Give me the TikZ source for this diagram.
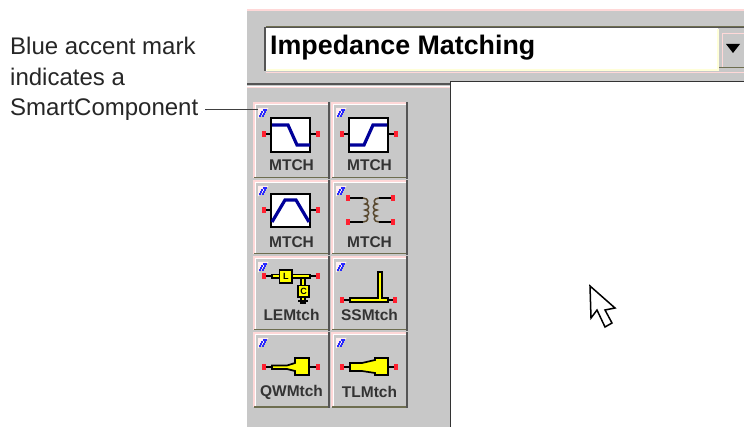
\documentclass[tikz,border=0pt]{standalone}
\usepackage{fontspec}
\setmainfont{Liberation Sans}
\definecolor{panel}{HTML}{C8C8C8}
\definecolor{pinkedge}{HTML}{FFD8D8}
\definecolor{olive}{HTML}{6E6E50}
\definecolor{darkedge}{HTML}{555555}
\definecolor{paley}{HTML}{FFFFD8}
\definecolor{accent}{HTML}{2828FF}
\definecolor{filt}{HTML}{000099}
\definecolor{termred}{HTML}{FF2030}
\definecolor{comp}{HTML}{FFFF00}
\definecolor{coil}{HTML}{5A4A30}
\tikzset{
  filterbox/.style={draw=black,line width=1.3pt,fill=white},
  filterline/.style={draw=filt,line width=3.2pt,line join=miter},
  compshape/.style={draw=black,line width=1.7pt,fill=comp,line join=miter},
  wirepart/.style={draw=black,line width=1.2pt},
  btnlabel/.style={font=\fontsize{15.5}{15.5}\selectfont\bfseries,text=black!80,inner sep=0pt,anchor=center},
  note/.style={font=\fontsize{24}{30.5}\selectfont,text=black!85,inner sep=0pt,align=left,anchor=north west},
}
% button: name, x, y, width, height, label, label centre y
\newcommand{\toolbtn}[7]{%
  \begin{scope}[shift={(#2,#3)}]
    \fill[panel] (0,0) rectangle (#4,#5);
    \draw[pinkedge,line width=1.6pt] (0.8,#5) -- (0.8,0.8) -- (#4,0.8);
    \draw[white,line width=.8pt] (2.2,#5-1) -- (2.2,2.2) -- (#4-1,2.2);
    \draw[olive,line width=1.6pt] (1,#5-.3) -- (#4,#5-.3);
    \draw[darkedge,line width=1.6pt] (#4+.2,0) -- (#4+.2,#5+.8);
    \fill[white!60!pinkedge] (5,6) -- (15.5,6) -- (5,16.5) -- cycle;
    \foreach \i/\j in {9.5/7,12/7,8/9,10.5/9,7/11,9.5/11,6/13,8.5/13}
      \fill[accent] (\i,\j) rectangle ++(2.1,1.8);
    \node[btnlabel] (#1) at (38.5,#7) {#6};
  \end{scope}}
% terminal at x,y with stub of length and direction #3
\newcommand{\term}[3]{%
  \draw[wirepart] (#1,#2) -- ++(#3,0);
  \fill[termred] (#1-2,#2-3.2) rectangle (#1+2,#2+3.2);}
\begin{document}
\begin{tikzpicture}[x=1pt,y=-1pt]
\useasboundingbox (0,0) rectangle (744,427);
\fill[white] (0,0) rectangle (744,427);
% window panel
\fill[panel] (247,10) rectangle (744,427);
\draw[pinkedge,line width=2pt] (247,10) -- (744,10);
\draw[pinkedge,line width=1pt] (247,427) -- (450,427);
% combo box
\fill[white] (265,27) rectangle (718,71);
\draw[darkedge,line width=1.5pt] (265,71) -- (265,27.5) -- (744,27.5);
\draw[olive,line width=1pt] (266,26.5) -- (744,26.5);
\draw[paley,line width=2pt] (267,70) -- (718,70);
\draw[paley,line width=1.5pt] (718,29) -- (718,71);
\draw[pinkedge,line width=1pt] (266,72.5) -- (744,72.5);
\node[inner sep=0pt,anchor=west,font=\fontsize{26.8}{26.8}\selectfont\bfseries] (title) at (270,48) {Impedance Matching};
% drop-down button
\fill[panel] (722,33) rectangle (744,67);
\draw[pinkedge,line width=1.5pt] (722.7,67) -- (722.7,33.7) -- (744,33.7);
\draw[olive,line width=1.8pt] (719,67.5) -- (744,67.5);
\fill[black] (726,44) -- (740,44) -- (733,53) -- cycle;
% separator
\draw[darkedge,line width=1.5pt] (247,84) -- (450,84);
\draw[pinkedge,line width=1.5pt] (247,87) -- (450,87);
\draw[white,line width=.6pt] (247,86) -- (450,86);
% canvas
\fill[white] (450,81) rectangle (744,427);
\draw[black!80,line width=1.5pt] (450.5,427) -- (450.5,81.5) -- (744,81.5);
% buttons
\toolbtn{b1}{253}{102}{76}{76}{MTCH}{63}
\toolbtn{b2}{331}{102}{76}{76}{MTCH}{63}
\toolbtn{b3}{253}{180}{76}{74}{MTCH}{62}
\toolbtn{b4}{331}{180}{76}{74}{MTCH}{62}
\toolbtn{b5}{253}{256}{76}{74}{LEMtch}{59}
\toolbtn{b6}{331}{256}{76}{74}{SSMtch}{59}
\toolbtn{b7}{253}{332}{76}{75}{QWMtch}{60}
\toolbtn{b8}{331}{332}{76}{75}{TLMtch}{60}
% filter icons
\term{264}{134}{7} \term{318}{134}{-8}
\draw[filterbox] (271,118) rectangle (310,152);
\draw[filterline] (272,125) -- (288,125) -- (297,145) -- (310,145);
\term{342}{134}{7} \term{396}{134}{-8}
\draw[filterbox] (349,118) rectangle (388,152);
\draw[filterline] (350,145) -- (364,145) -- (373,125) -- (387,125);
\term{264}{210}{7} \term{318}{210}{-8}
\draw[filterbox] (271,194) rectangle (310,227);
\draw[filterline] (272,222) -- (285,200) -- (296,200) -- (309,222);
% transformer
\draw[wirepart] (348,198) -- (363,198) (348,222) -- (363,222);
\draw[wirepart] (393,198) -- (379,198) (393,222) -- (379,222);
\fill[termred] (346,194.8) rectangle (350,201.2);
\fill[termred] (346,218.8) rectangle (350,225.2);
\fill[termred] (391,194.8) rectangle (395,201.2);
\fill[termred] (391,218.8) rectangle (395,225.2);
\draw[coil,line width=1.5pt] (363,198)
  .. controls (369,198) and (369,204) .. (365,204) .. controls (370,204) and (370,210) .. (365,210)
  .. controls (370,210) and (370,216) .. (365,216) .. controls (369,216) and (369,222) .. (363,222);
\draw[coil,line width=1.5pt] (379,198)
  .. controls (373,198) and (373,204) .. (377,204) .. controls (372,204) and (372,210) .. (377,210)
  .. controls (372,210) and (372,216) .. (377,216) .. controls (373,216) and (373,222) .. (379,222);
% LEMtch icon
\term{264}{276}{10} \term{318}{276}{-8}
\draw[compshape,line width=1.2pt] (272,274.5) rectangle (310,278);
\draw[compshape] (279.5,270) rectangle (292,283);
\node[inner sep=0pt,font=\fontsize{9}{9}\selectfont\bfseries] (lglyph) at (285.8,276.5) {L};
\fill[comp,draw=black,line width=1.2pt] (301,278) rectangle (305,286);
\draw[compshape] (298,285.5) rectangle (309,297);
\node[inner sep=0pt,font=\fontsize{9}{9}\selectfont\bfseries] (cglyph) at (303.5,291.5) {C};
\draw[black,line width=1.2pt,fill=comp] (301,297) rectangle (305,301);
\draw[black,line width=1.2pt] (298,301) -- (308,301);
\fill[black] (300,301) rectangle (306,304);
% SSMtch icon
\term{342}{300}{8} \term{395}{300}{-7}
\draw[compshape] (350,298) -- (378,298) -- (378,272) -- (382,272) -- (382,298) -- (388,298) -- (388,302) -- (350,302) -- cycle;
% QWMtch icon
\term{264}{367}{8} \term{318}{367}{-8}
\draw[compshape] (272,365.5) -- (287,365.5) -- (295,363) -- (295,358) -- (309,358) -- (309,375) -- (295,375) -- (295,371) -- (287,369) -- (272,369) -- cycle;
% TLMtch icon
\term{342}{367}{8} \term{396}{367}{-8}
\draw[compshape] (350,363) -- (362,363) -- (375,360) -- (375,358) -- (388,358) -- (388,375) -- (375,375) -- (375,373) -- (362,371) -- (350,371) -- cycle;
% cursor
\draw[fill=white,draw=black,line width=1.5pt,line join=miter] (590,286) -- (591,318) -- (597,310) -- (605,327) -- (612,323) -- (605,310) -- (615,308) -- cycle;
% note
\node[note] (notetext) at (10,37) {Blue accent mark\\indicates a\\SmartComponent};
\coordinate (leadstart) at (205,110);
\coordinate (leadend) at (258,110);
\draw[black!75,line width=1pt] (leadstart) -- (leadend);
\end{tikzpicture}
\end{document}
